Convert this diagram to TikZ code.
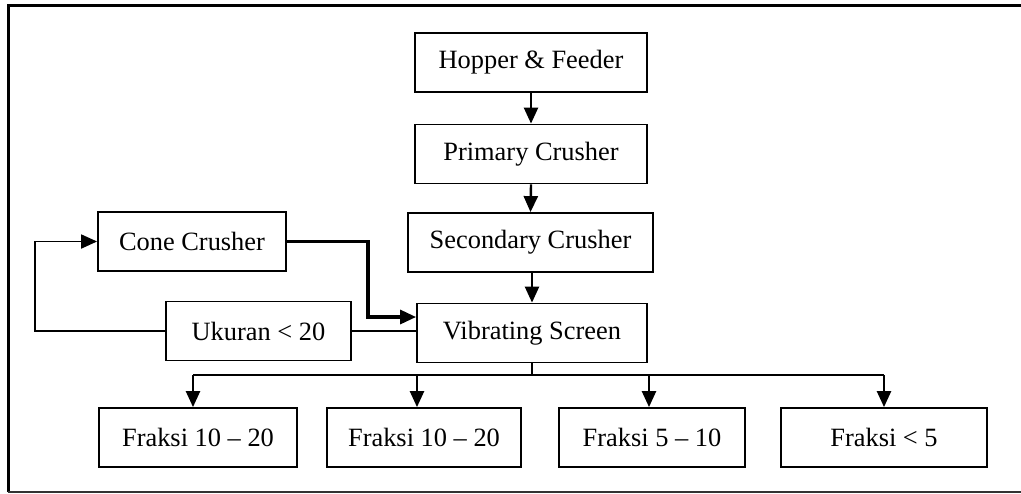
\documentclass[tikz,border=0pt]{standalone}
\usepackage{fontspec}
\setmainfont{Liberation Serif}
\usetikzlibrary{arrows.meta}
\newcommand{\fs}{\fontsize{13.2}{15}\selectfont}
\begin{document}
\begin{tikzpicture}[x=0.5pt,y=-0.5pt,
  box/.style={draw, line width=0.9pt, inner sep=0pt, minimum height=29.5pt, font=\fs},
  arr/.style={line width=1.2pt, -{Triangle[length=8pt,width=7pt]}},
  plain/.style={line width=0.8pt}]
\useasboundingbox (0,0) rectangle (1021,493);
% frame
\draw[line width=1.5pt] (8,492) -- (8,5) -- (1021,5);
\draw[line width=0.8pt, black!80] (8,492) -- (1021,492);
% nodes
\node[box, minimum width=116pt] (hop) at (531,62.5) {Hopper \& Feeder};
\node[box, minimum width=116pt] (pri) at (531,154) {Primary Crusher};
\node[box, minimum width=122.5pt] (sec) at (530.5,242.5) {Secondary Crusher};
\node[box, minimum width=115pt] (vib) at (532,333) {Vibrating Screen};
\node[box, minimum width=94pt] (cone) at (192,241.5) {Cone Crusher};
\node[box, minimum width=92.5pt] (uk) at (258.5,331) {Ukuran {<} 20};
\node[box, minimum width=99pt] (f1) at (198,437.5) {Fraksi 10 -- 20};
\node[box, minimum width=97pt] (f2) at (424,437.5) {Fraksi 10 -- 20};
\node[box, minimum width=93pt] (f3) at (652,437.5) {Fraksi 5 -- 10};
\node[box, minimum width=103pt] (f4) at (884,437.5) {Fraksi {<} 5};
% main flow
\draw[arr] (hop.south) -- (pri.north);
\draw[arr] (pri.south) -- (sec.north);
\draw[arr] (sec.south) -- (vib.south |- sec.south) -- (vib.north);
% bus
\coordinate (b1) at (193,375);
\coordinate (b2) at (417,375);
\coordinate (b3) at (649,375);
\coordinate (b4) at (884,375);
\draw[plain] (vib.south) -- (vib.south |- b1);
\draw[plain] (b1) -- (b4);
\draw[arr] (b1) -- (b1 |- f1.north);
\draw[arr] (b2) -- (b2 |- f2.north);
\draw[arr] (b3) -- (b3 |- f3.north);
\draw[arr] (b4) -- (b4 |- f4.north);
% loop
\coordinate (lp) at (35,0);
\draw[arr, line width=0.9pt] (uk.west) -- (uk.west -| lp) -- (cone.west -| lp) -- (cone.west);
\draw[plain] (uk.east) -- (uk.east -| vib.west);
\coordinate (cv) at (368,0);
\draw[arr, line width=1.6pt] (cone.east) -- (cone.east -| cv) -- ([yshift=8pt]vib.west -| cv) -- ([yshift=8pt]vib.west);
\end{tikzpicture}
\end{document}
